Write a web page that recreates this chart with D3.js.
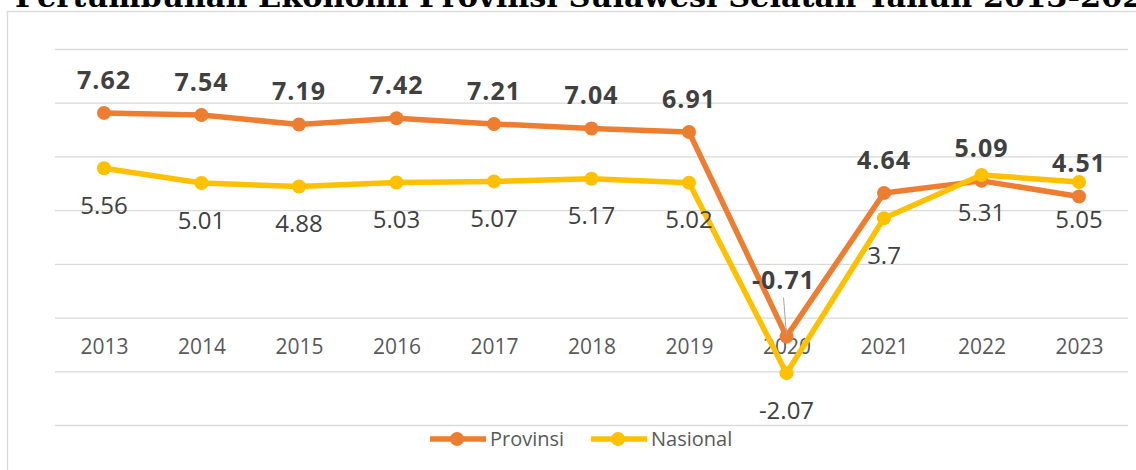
<!DOCTYPE html>
<html>
<head>
<meta charset="utf-8">
<script src="https://cdn.jsdelivr.net/npm/d3@7"></script>
<style>
  body { margin: 0; background: #fff; }
  svg { display: block; }
</style>
</head>
<body>
<div id="root"></div>
<script>
const years = ["2013", "2014", "2015", "2016", "2017", "2018", "2019", "2020", "2021", "2022", "2023"];
const provinsi = [7.62, 7.54, 7.19, 7.42, 7.21, 7.04, 6.91, -0.71, 4.64, 5.09, 4.51];
const nasional = [5.56, 5.01, 4.88, 5.03, 5.07, 5.17, 5.02, -2.07, 3.7, 5.31, 5.05];
const yTicks = [-4, -2, 0, 2, 4, 6, 8, 10];
const seriesNames = ["Provinsi", "Nasional"];
const title = "Pertumbuhan Ekonomi Provinsi Sulawesi Selatan Tahun 2013-2023";

const W = 1136, H = 470;
const colors = ["#ED7D31", "#FFC000"];

const svg = d3.select("#root").append("svg")
  .attr("width", W)
  .attr("height", H);

// chart title, partly cut by the top edge like in the source
let t = svg.append("text")
  .attr("x", 15)
  .attr("y", 7)
  .attr("font-family", "DejaVu Serif")
  .attr("font-weight", "bold")
  .attr("font-size", 30)
  .attr("fill", "#000")
  .text(title);
let tw = t.node().getComputedTextLength();
t.attr("font-size", 30 * 1150 / tw);

// chart area border
svg.append("rect")
  .attr("x", 7.5)
  .attr("y", 11.5)
  .attr("width", 1160)
  .attr("height", 500)
  .attr("fill", "none")
  .attr("stroke", "#d9d9d9")
  .attr("stroke-width", 1.3);

let x = d3.scalePoint()
  .domain(years)
  .range([104, 1079]);

let y = d3.scaleLinear()
  .domain([-4, 10])
  .range([425, 49]);

// gridlines
svg.append("g")
  .attr("class", "grid")
  .attr("transform", "translate(55,0)")
  .call(d3.axisLeft(y).tickValues(yTicks).tickSize(-1073).tickFormat(""))
  .call(g => g.select(".domain").remove())
  .call(g => g.selectAll("line").attr("stroke", "#d9d9d9").attr("stroke-width", 1.3));

// category labels at the zero line
svg.append("g")
  .attr("class", "x-axis")
  .attr("transform", "translate(0," + y(0) + ")")
  .call(d3.axisBottom(x).tickSize(0).tickPadding(22))
  .call(g => g.select(".domain").remove())
  .call(g => g.selectAll("text")
    .attr("font-family", "Open Sans")
    .attr("font-size", 21)
    .attr("fill", "#595959"));

const allData = [provinsi, nasional];

const line = d3.line()
  .x((d, i) => x(years[i]))
  .y(d => y(d));

allData.forEach((data, idx) => {
  let g = svg.append("g").attr("class", "series-" + idx);
  g.append("path")
    .datum(data)
    .attr("d", line)
    .attr("fill", "none")
    .attr("stroke", colors[idx])
    .attr("stroke-width", 5.5)
    .attr("stroke-linejoin", "round");
  g.selectAll("circle")
    .data(data)
    .enter()
    .append("circle")
    .attr("cx", (d, i) => x(years[i]))
    .attr("cy", d => y(d))
    .attr("r", 7)
    .attr("fill", colors[idx]);
});

// leader line for the moved 2020 label
const moved = { year: "2020", dx: -3, dy: -57 };
let mi = years.indexOf(moved.year);
svg.append("line")
  .attr("x1", x(moved.year) + moved.dx)
  .attr("y1", y(provinsi[mi]) + moved.dy + 18)
  .attr("x2", x(moved.year))
  .attr("y2", y(provinsi[mi]) - 2)
  .attr("stroke", "#a6a6a6")
  .attr("stroke-width", 1);

// data labels
svg.append("g")
  .selectAll("text")
  .data(provinsi)
  .enter()
  .append("text")
  .attr("x", (d, i) => x(years[i]) + (years[i] === moved.year ? moved.dx : 0))
  .attr("y", (d, i) => y(d) + (years[i] === moved.year ? moved.dy : -33))
  .attr("dy", "0.36em")
  .attr("text-anchor", "middle")
  .attr("font-family", "Open Sans")
  .attr("font-weight", "bold")
  .attr("font-size", 25)
  .attr("letter-spacing", 1)
  .attr("fill", "#404040")
  .text(d => d);

svg.append("g")
  .selectAll("text")
  .data(nasional)
  .enter()
  .append("text")
  .attr("x", (d, i) => x(years[i]))
  .attr("y", d => y(d) + 37)
  .attr("dy", "0.36em")
  .attr("text-anchor", "middle")
  .attr("font-family", "Open Sans")
  .attr("font-size", 24)
  .attr("fill", "#404040")
  .text(d => d);

// legend
const legendX = [430, 591];
seriesNames.forEach((name, idx) => {
  let a = svg.append("g").attr("transform", "translate(" + legendX[idx] + ",439)");
  a.append("line")
    .attr("x1", 0).attr("x2", 56)
    .attr("stroke", colors[idx])
    .attr("stroke-width", 5.5);
  a.append("circle")
    .attr("cx", 27)
    .attr("r", 7)
    .attr("fill", colors[idx]);
  a.append("text")
    .attr("x", 60)
    .attr("dy", "0.36em")
    .attr("font-family", "Open Sans")
    .attr("font-size", 20)
    .attr("fill", "#595959")
    .text(name);
});
</script>
</body>
</html>
